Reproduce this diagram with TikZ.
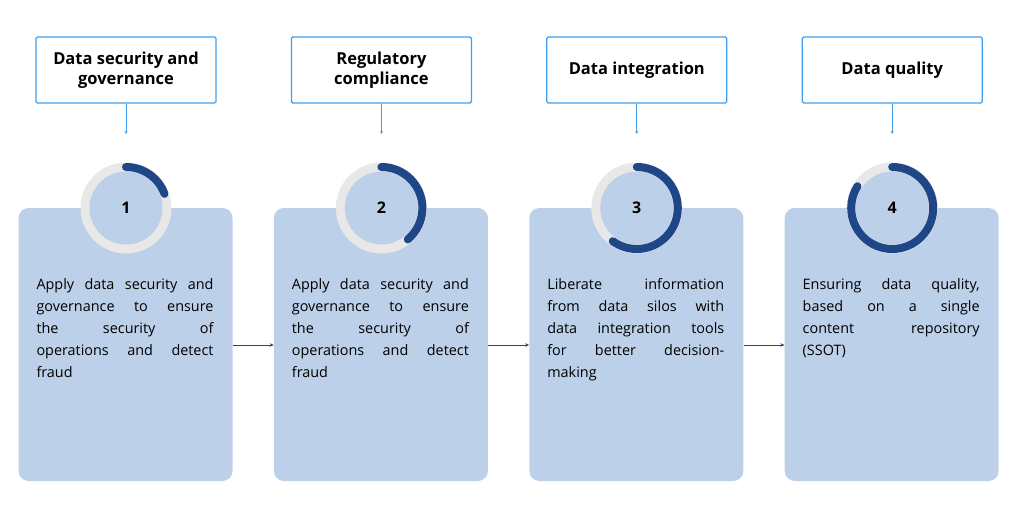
\documentclass[tikz,border=0pt]{standalone}
\usepackage{fontspec}
\setmainfont{Open Sans}
\usetikzlibrary{arrows.meta}
\definecolor{card}{HTML}{BDD0E9}
\definecolor{ringg}{HTML}{E8E8E8}
\definecolor{dblue}{HTML}{1F4788}
\definecolor{lblue}{HTML}{3EA0F0}
\hbadness=10000
\tikzset{
 title/.style={draw=lblue,line width=1.3pt,rounded corners=1.5pt,minimum width=180pt,minimum height=66pt,align=center,font=\fontsize{16.5}{20.5}\selectfont\bfseries,inner sep=0pt},
 cardbox/.style={fill=card,rounded corners=10pt,minimum width=214pt,minimum height=273pt,inner sep=0pt},
 desc/.style={text width=177pt,align=justify,font=\fontsize{14.4}{22}\selectfont,anchor=north,inner sep=0pt},
 num/.style={font=\fontsize{16}{18}\selectfont\bfseries},
 down/.style={lblue,line width=0.8pt,-{Stealth[length=3pt,width=3pt]}},
 flow/.style={dblue,line width=0.7pt,-{Stealth[length=4pt,width=3.5pt]}}
}
\begin{document}
\begin{tikzpicture}[x=1pt,y=-1pt]
\useasboundingbox (0,0) rectangle (1024,505);
\foreach \i/\t/\e/\d in {
 1/{Data security and\\governance}/20/{Apply data security and\linebreak governance to ensure\linebreak the security of\linebreak operations and detect\linebreak fraud},
 2/{Regulatory\\compliance}/-50/{Apply data security and\linebreak governance to ensure\linebreak the security of\linebreak operations and detect\linebreak fraud},
 3/{Data integration}/-126/{Liberate information\linebreak from data silos with\linebreak data integration tools\linebreak for better decision-\linebreak making},
 4/{Data quality}/-212/{Ensuring data quality,\linebreak based on a single\linebreak content repository\linebreak (SSOT)}}{
 \pgfmathsetmacro{\cx}{126+(\i-1)*255.4}
 \node[title] (t\i) at (\cx,70) {\t};
 \coordinate (e\i) at (\cx,134);
 \draw[down] (t\i.south) -- (e\i);
 \node[cardbox] (c\i) at (\cx-0.5,344.5) {};
 \fill[ringg] (\cx,208) circle (45.5);
 \fill[card] (\cx,208) circle (36.5);
 \draw[dblue,line width=8pt,line cap=round] (\cx,167) arc[start angle=-90,end angle=-\e,radius=41];
 \node[num] (n\i) at (\cx,208) {\i};
 \node[desc] (d\i) at (\cx-1,278) {\d};
}
\foreach \a/\b in {1/2,2/3,3/4}{
 \draw[flow] (c\a.east |- 0,345) -- (c\b.west |- 0,345);
}
\end{tikzpicture}
\end{document}
